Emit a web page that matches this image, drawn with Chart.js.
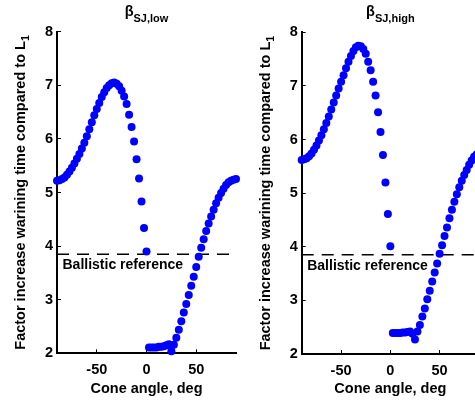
<!DOCTYPE html>
<html>
<head>
<meta charset="utf-8">
<script src="https://cdn.jsdelivr.net/npm/chart.js@4"></script>
<style>
  html, body { margin: 0; padding: 0; background: #fff; }
  body { width: 475px; height: 407px; overflow: hidden; position: relative; }
  canvas { position: absolute; top: 0; }
  #lowChart { left: 0; }
  #highChart { left: 245px; }
</style>
</head>
<body>
<canvas id="lowChart" width="245" height="407"></canvas>
<canvas id="highChart" width="245" height="407"></canvas>
<script>
const coneAngle = [
    -90, -87.5, -85, -82.5, -80, -77.5, -75, -72.5, -70, -67.5,
    -65, -62.5, -60, -57.5, -55, -52.5, -50, -47.5, -45, -42.5,
    -40, -37.5, -35, -32.5, -30, -27.5, -25, -22.5, -20, -17.5,
    -15, -12.5, -10, -7.5, -5, -2.5, 0,
    2.5, 5, 7.5, 10, 12.5, 15, 17.5, 20, 22.5, 25,
    27.5, 30, 32.5, 35, 37.5, 40, 42.5, 45, 47.5, 50,
    52.5, 55, 57.5, 60, 62.5, 65, 67.5, 70, 72.5, 75,
    77.5, 80, 82.5, 85, 87.5, 90
];

// beta SJ,low
const factorLow = [
    5.22, 5.23, 5.25, 5.28, 5.33, 5.39, 5.46, 5.54, 5.63, 5.72,
    5.82, 5.93, 6.05, 6.18, 6.31, 6.44, 6.56, 6.67, 6.78, 6.87,
    6.95, 7.00, 7.04, 7.05, 7.03, 6.98, 6.90, 6.79, 6.65, 6.45,
    6.22, 5.95, 5.62, 5.26, 4.83, 4.34, 3.90,
    2.11, 2.11, 2.11, 2.11, 2.12, 2.12, 2.13, 2.15, 2.17, 2.04,
    2.16, 2.29, 2.44, 2.60, 2.76, 2.92, 3.09, 3.26, 3.43, 3.61,
    3.80, 3.97, 4.13, 4.28, 4.42, 4.55, 4.68, 4.80, 4.90, 4.99,
    5.07, 5.14, 5.19, 5.22, 5.24, 5.25
];

// beta SJ,high
const factorHigh = [
    5.62, 5.63, 5.65, 5.69, 5.74, 5.81, 5.89, 5.98, 6.08, 6.19,
    6.31, 6.43, 6.56, 6.69, 6.82, 6.95, 7.08, 7.20, 7.33, 7.45,
    7.56, 7.65, 7.72, 7.75, 7.74, 7.69, 7.60, 7.45, 7.29, 7.08,
    6.82, 6.51, 6.14, 5.71, 5.20, 4.61, 4.01,
    2.39, 2.39, 2.39, 2.39, 2.40, 2.40, 2.41, 2.42, 2.38, 2.27,
    2.42, 2.54, 2.70, 2.85, 3.02, 3.18, 3.35, 3.52, 3.69, 3.87,
    4.03, 4.20, 4.36, 4.53, 4.69, 4.84, 4.98, 5.11, 5.23, 5.34,
    5.43, 5.53, 5.61, 5.68, 5.72, 5.75
];

const ballisticRef = 3.85;
const xTicks = [-50, 0, 50];
const xRange = [-90, 90];
const yRange = [2, 8];

const FONT = '"Liberation Sans", Arial, sans-serif';

// titles with subscripts, drawn straight on the canvas
const labelPlugin = {
    id: 'labels',
    afterDraw(chart, args, opts) {
        const ctx = chart.ctx;
        const area = chart.chartArea;
        ctx.save();
        ctx.fillStyle = '#000';
        ctx.textBaseline = 'alphabetic';
        ctx.textAlign = 'left';

        // panel title
        ctx.font = 'bold 14.5px ' + FONT;
        const wb = ctx.measureText('β').width;
        ctx.font = 'bold 11px ' + FONT;
        const ws = ctx.measureText(opts.sub).width;
        const tx = (area.left + area.right) / 2 - (wb + ws) / 2;
        ctx.font = 'bold 14.5px ' + FONT;
        ctx.fillText('β', tx, 16);
        ctx.font = 'bold 11px ' + FONT;
        ctx.fillText(opts.sub, tx + wb, 21.5);

        // y axis title
        const main = 'Factor increase warining time compared to L';
        ctx.font = 'bold 14.5px ' + FONT;
        const wm = ctx.measureText(main).width;
        ctx.font = 'bold 10.5px ' + FONT;
        const w1 = ctx.measureText('1').width;
        ctx.translate(24.5, (area.top + area.bottom) / 2);
        ctx.rotate(-Math.PI / 2);
        const sx = -(wm + w1) / 2;
        ctx.font = 'bold 14.5px ' + FONT;
        ctx.fillText(main, sx, 0);
        ctx.font = 'bold 10.5px ' + FONT;
        ctx.fillText('1', sx + wm, 4);
        ctx.restore();

        // label under the dashed line
        ctx.save();
        ctx.fillStyle = '#000';
        ctx.font = 'bold 14px ' + FONT;
        ctx.textBaseline = 'alphabetic';
        ctx.fillText('Ballistic reference', area.left + 5.5,
            chart.scales.y.getPixelForValue(ballisticRef) + 15);
        ctx.restore();
    }
};

function makeChart(id, values, sub, box) {
    const points = coneAngle.map((a, i) => ({x: a, y: values[i]}));
    const tickFont = {family: FONT, size: 14.5, weight: 'bold'};

    return new Chart(document.getElementById(id), {
        type: 'scatter',
        data: {
            datasets: [
                {
                    data: [{x: xRange[0], y: ballisticRef}, {x: xRange[1], y: ballisticRef}],
                    showLine: true,
                    borderColor: '#000',
                    borderWidth: 1.5,
                    borderDash: [12, 8],
                    pointRadius: 0,
                    order: 2
                },
                {
                    data: points,
                    pointRadius: 4,
                    pointBackgroundColor: '#0000ff',
                    pointBorderWidth: 0,
                    clip: false,
                    order: 1
                }
            ]
        },
        options: {
            responsive: false,
            animation: false,
            events: [],
            layout: {padding: {top: box.top, right: box.right, left: 0, bottom: 0}},
            plugins: {
                legend: {display: false},
                tooltip: {enabled: false},
                labels: {sub: sub}
            },
            scales: {
                x: {
                    type: 'linear',
                    min: xRange[0],
                    max: xRange[1],
                    afterBuildTicks: s => { s.ticks = xTicks.map(v => ({value: v})); },
                    afterFit: s => { s.height = 407 - box.bottom; },
                    ticks: {color: '#000', font: tickFont, padding: 12, maxRotation: 0},
                    grid: {drawOnChartArea: false, drawTicks: true, tickLength: -4, color: '#000', lineWidth: 1},
                    border: {display: true, color: '#000', width: 2},
                    title: {display: true, text: 'Cone angle, deg', color: '#000', font: tickFont,
                            padding: {top: 0, bottom: 9}}
                },
                y: {
                    min: yRange[0],
                    max: yRange[1],
                    afterFit: s => { s.width = box.left; },
                    ticks: {stepSize: 1, color: '#000', font: tickFont, padding: 8},
                    grid: {drawOnChartArea: false, drawTicks: true, tickLength: -4, color: '#000', lineWidth: 1},
                    border: {display: true, color: '#000', width: 2}
                }
            }
        },
        plugins: [labelPlugin]
    });
}

makeChart('lowChart', factorLow, 'SJ,low', {left: 57, right: 9, top: 31.7, bottom: 353.3});
makeChart('highChart', factorHigh, 'SJ,high', {left: 56.7, right: 11, top: 32.3, bottom: 354});
</script>
</body>
</html>
